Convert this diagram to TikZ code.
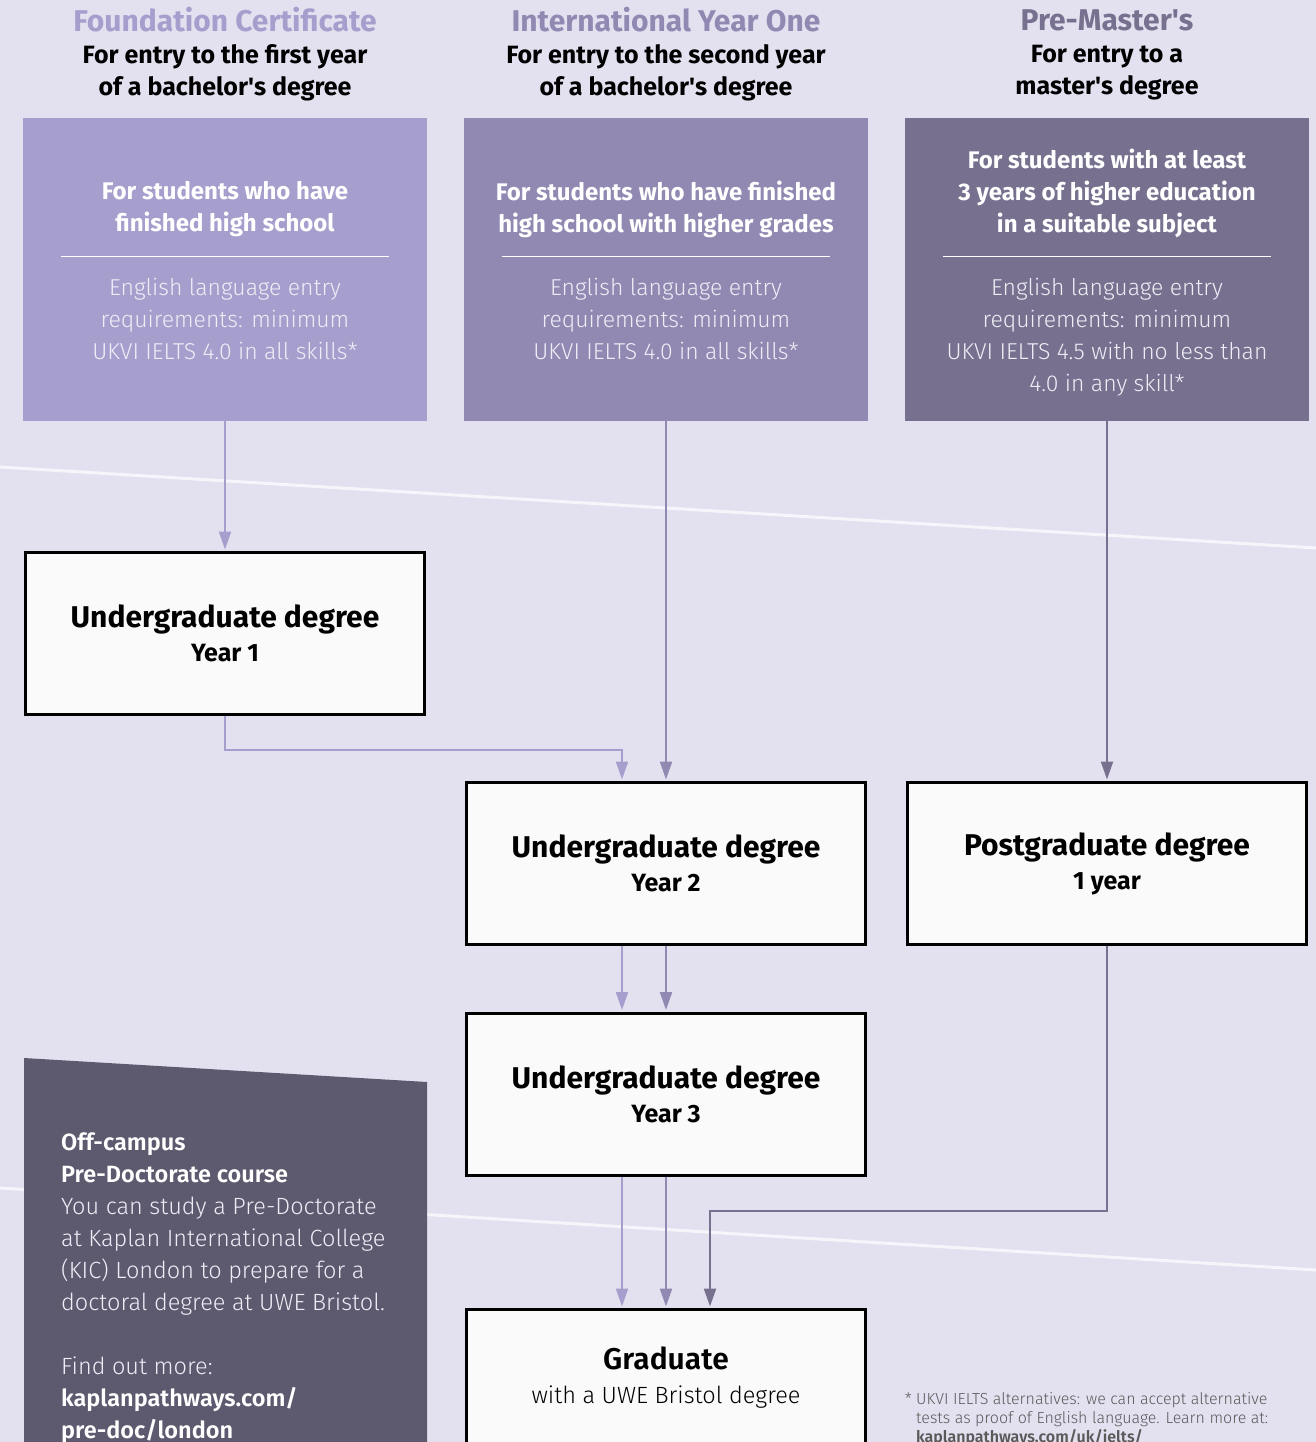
\documentclass[tikz,border=0pt]{standalone}
\usepackage{fontspec}
\setmainfont{Fira Sans}
\newfontfamily\lightfont{Fira Sans Light}
\usepackage{tikz}
\usetikzlibrary{arrows.meta}

\definecolor{pagebg}{HTML}{E3E1F0}
\definecolor{fcpurple}{HTML}{A69FCD}
\definecolor{iyopurple}{HTML}{9189B2}
\definecolor{pmpurple}{HTML}{77718F}
\definecolor{pdpurple}{HTML}{5D596E}
\definecolor{palewhite}{HTML}{EEEDF6}
\definecolor{notegray}{HTML}{5A5A5A}

\newcommand{\degreetext}[2]{{\fontsize{30}{34}\selectfont\bfseries #1}\\#2}

\begin{document}
\begin{tikzpicture}[x=1pt,y=-1pt,
  >={Triangle[width=12pt,length=18pt]},
  entrybox/.style={fill=#1, minimum width=404pt, minimum height=303pt, inner sep=0pt},
  titletext/.style={text=#1, font=\fontsize{30}{34}\selectfont\bfseries},
  subtext/.style={align=center, font=\fontsize{25}{32}\selectfont\bfseries},
  boldtext/.style={align=center, text=white, font=\fontsize{24}{32}\selectfont\bfseries},
  lighttext/.style={align=center, text=palewhite, font=\lightfont\fontsize{23}{32}\selectfont},
  rule/.style={draw=white, line width=1pt},
  degreebox/.style={draw=black, line width=3pt, fill=white!98!black, minimum width=399pt, minimum height=162pt, align=center, font=\fontsize{25}{34}\selectfont\bfseries},
  conn/.style={line width=2.2pt, shorten >=1.5pt, draw=#1}
]
\useasboundingbox (0,0) rectangle (1316,1442);
\clip (0,0) rectangle (1316,1442);
\fill[pagebg] (0,0) rectangle (1316,1442);
\draw[white, opacity=0.7, line width=3pt] (0,467) -- (1316,548);
\draw[white, opacity=0.7, line width=3pt] (0,1188) -- (1316,1270);

\node[titletext=fcpurple] (fctitle) at (225,20) {Foundation Certificate};
\node[titletext=iyopurple] (iyotitle) at (666,20) {International Year One};
\node[titletext=pmpurple] (pmtitle) at (1107,20) {Pre-Master\textquotesingle s};
\node[subtext] (fcsub) at (225,73) {For entry to the first year\\of a bachelor\textquotesingle s degree};
\node[subtext] (iyosub) at (666,73) {For entry to the second year\\of a bachelor\textquotesingle s degree};
\node[subtext] (pmsub) at (1107,73) {For entry to a\\master\textquotesingle s degree};

\node[entrybox=fcpurple] (fc) at (225,269.5) {};
\node[entrybox=iyopurple] (iyo) at (666,269.5) {};
\node[entrybox=pmpurple] (pm) at (1107,269.5) {};

\node[boldtext] (fcwho) at (225,209) {For students who have\\finished high school};
\node[boldtext] (iyowho) at (666,209) {For students who have finished\\high school with higher grades};
\node[boldtext] (pmwho) at (1107,193) {For students with at least\\3 years of higher education\\in a suitable subject};

\draw[rule] ([xshift=38pt,yshift=13.5pt]fc.west) -- ([xshift=-38pt,yshift=13.5pt]fc.east);
\draw[rule] ([xshift=38pt,yshift=13.5pt]iyo.west) -- ([xshift=-38pt,yshift=13.5pt]iyo.east);
\draw[rule] ([xshift=38pt,yshift=13.5pt]pm.west) -- ([xshift=-38pt,yshift=13.5pt]pm.east);

\node[lighttext] (fcreq) at (225,319) {English language entry\\requirements: minimum\\UKVI IELTS 4.0 in all skills*};
\node[lighttext] (iyoreq) at (666,319) {English language entry\\requirements: minimum\\UKVI IELTS 4.0 in all skills*};
\node[lighttext] (pmreq) at (1107,337) {English language entry\\requirements: minimum\\UKVI IELTS 4.5 with no less than\\4.0 in any skill*};

\node[degreebox] (ug1) at (225,633.5) {\degreetext{Undergraduate degree}{Year 1}};
\node[degreebox] (ug2) at (666,863.5) {\degreetext{Undergraduate degree}{Year 2}};
\node[degreebox] (pg) at (1107,863.5) {\degreetext{Postgraduate degree}{1 year}};
\node[degreebox] (ug3) at (666,1094) {\degreetext{Undergraduate degree}{Year 3}};
\node[degreebox, minimum height=137pt, font=\lightfont\fontsize{23.5}{34}\selectfont] (grad) at (666,1378) {\degreetext{Graduate}{with a UWE Bristol degree}};

\draw[conn=fcpurple,->] (fc) -- (ug1);
\draw[conn=fcpurple,->] (ug1.south) -- ++(0,34) -| ([xshift=-44pt]ug2.north);
\draw[conn=iyopurple,->] (iyo) -- (ug2);
\draw[conn=pmpurple,->] (pm) -- (pg);
\draw[conn=fcpurple,->] ([xshift=-44pt]ug2.south) -- ([xshift=-44pt]ug3.north);
\draw[conn=iyopurple,->] (ug2) -- (ug3);
\draw[conn=fcpurple,->] ([xshift=-44pt]ug3.south) -- ([xshift=-44pt]grad.north);
\draw[conn=iyopurple,->] (ug3) -- (grad);
\draw[conn=pmpurple,->] (pg.south) -- ++(0,265) -| ([xshift=44pt]grad.north);

\fill[pdpurple] (24,1058) -- (427,1082) -- (427,1442) -- (24,1442) -- cycle;
\node[anchor=north west, inner sep=0pt, align=left, text=palewhite, font=\lightfont\fontsize{23.5}{32}\selectfont] (predoc) at (61,1132)
  {{\bfseries\color{white}Off-campus}\\{\bfseries\color{white}Pre-Doctorate course}\\You can study a Pre-Doctorate\\at Kaplan International College\\(KIC) London to prepare for a\\doctoral degree at UWE Bristol.\\[32pt]Find out more:\\{\bfseries\color{white}kaplanpathways.com/}\\{\bfseries\color{white}pre-doc/london}};

\node[anchor=north west, inner sep=0pt, align=left, text=notegray, font=\lightfont\fontsize{16}{19}\selectfont] (note) at (916,1392)
  {\llap{* }UKVI IELTS alternatives: we can accept alternative\\tests as proof of English language. Learn more at:\\{\bfseries kaplanpathways.com/uk/ielts/}};
\end{tikzpicture}
\end{document}
